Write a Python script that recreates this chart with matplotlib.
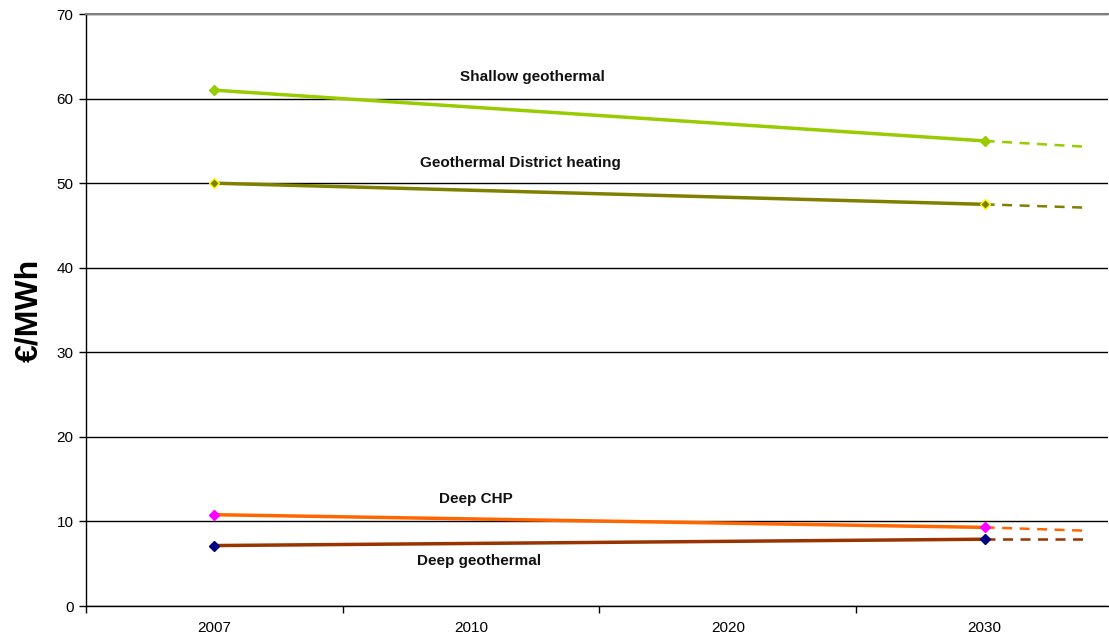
import numpy as np
import matplotlib
matplotlib.use("Agg")
from matplotlib import pyplot as plt

plt.rcParams['font.family'] = ['Liberation Sans', 'DejaVu Sans']

years = ['2007', '2010', '2020', '2030']

# cost per technology, only 2007 and 2030 are given
shallow = [61.0, None, None, 55.0]
district = [50.0, None, None, 47.5]
deep_chp = [10.8, None, None, 9.3]
deep_geo = [7.15, None, None, 7.9]

# where the dashed trend after 2030 ends up
trend_end = [54.3, 47.1, 8.9, 7.9]

names = ['Shallow geothermal', 'Geothermal District heating', 'Deep CHP', 'Deep geothermal']
line_cols = ['#99CC00', '#808000', '#FF6600', '#993300']
mark_face = ['#99CC00', '#808000', '#FF00FF', '#000080']
mark_edge = ['#99CC00', '#FFFF00', '#FF00FF', '#000080']
label_pos = [(1.24, 62.5), (1.19, 52.4), (1.02, 12.6), (1.03, 5.3)]

fig = plt.figure(figsize=(11.09, 6.39), dpi=100)
ax = fig.add_axes([0.0775, 0.0516, 0.9215, 0.9264])

x = np.arange(len(years))
trend_x = 3.4
for i, vals in enumerate([shallow, district, deep_chp, deep_geo]):
    xs = [x[j] for j, v in enumerate(vals) if v is not None]
    ys = [v for v in vals if v is not None]
    ax.plot([xs[-1], trend_x], [ys[-1], trend_end[i]], color=line_cols[i],
            lw=1.8, ls=(0, (4, 3)), zorder=3)
    ax.plot(xs, ys, color=line_cols[i], lw=2.5, zorder=4,
            marker='D', ms=5, mfc=mark_face[i], mec=mark_edge[i], mew=1)
    ax.text(label_pos[i][0], label_pos[i][1], names[i], ha='center', va='center',
            fontsize=11, fontweight='bold', color='#111111')

ax.set_xlim(-0.5, 3.48)
ax.set_ylim(0, 70)
ax.set_yticks(range(0, 71, 10))
ax.set_xticks(x)
ax.set_xticklabels(years)
ax.set_xticks([-0.5, 0.5, 1.5, 2.5], minor=True)
ax.tick_params(axis='x', which='major', length=0, pad=11, labelsize=11)
ax.tick_params(axis='x', which='minor', length=5, direction='out', width=1)
ax.tick_params(axis='y', length=5, direction='out', width=1, labelsize=11, pad=4)

ax.yaxis.grid(True, color='black', lw=1)
ax.set_axisbelow(True)
ax.spines['right'].set_visible(False)
ax.spines['top'].set_color('#808080')
ax.spines['top'].set_linewidth(1.5)
for s in ['left', 'bottom']:
    ax.spines[s].set_color('black')
    ax.spines[s].set_linewidth(1)

ax.set_ylabel('€/MWh', fontsize=23, fontweight='bold', labelpad=9)

fig.savefig('out.png', dpi=100)
